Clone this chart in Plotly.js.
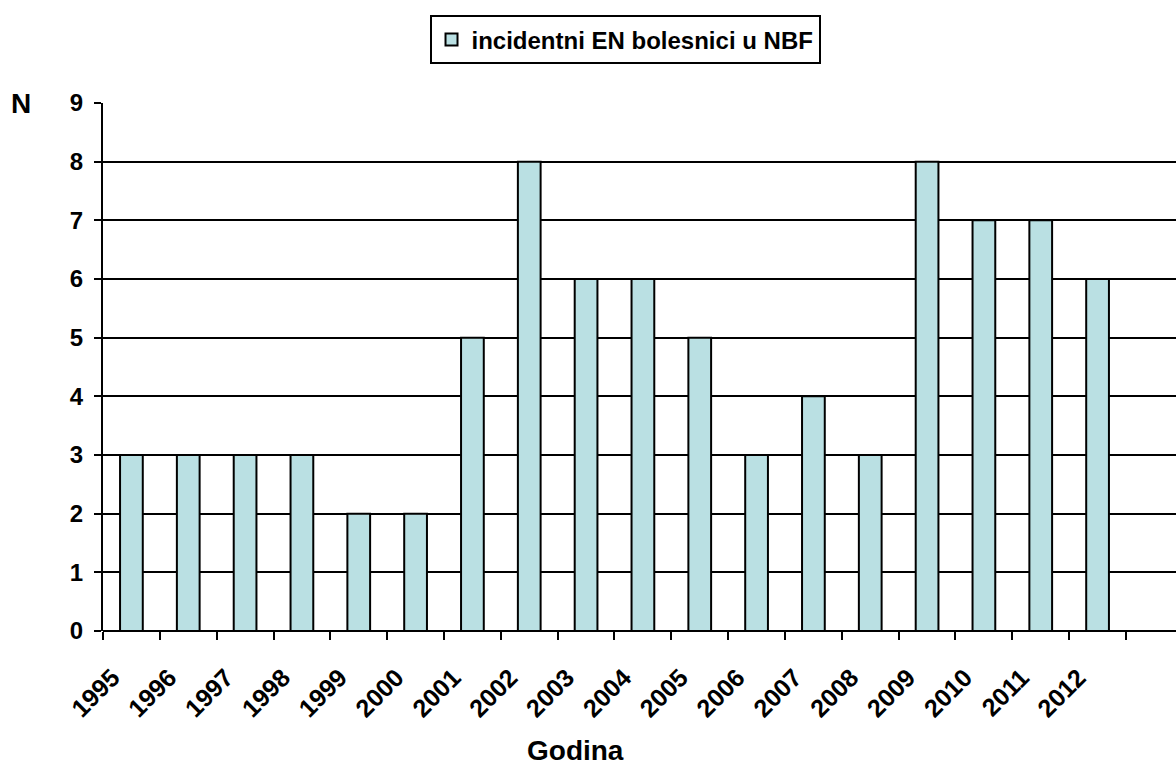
<!DOCTYPE html>
<html>
<head>
<meta charset="utf-8">
<script src="https://cdn.plot.ly/plotly-3.0.1.min.js"></script>
<style>html,body{margin:0;padding:0;background:#fff;overflow:hidden}#chart{width:1176px;height:776px}</style>
</head>
<body>
<div id="chart"></div>
<script>
const years = ["1995","1996","1997","1998","1999","2000","2001","2002","2003","2004","2005","2006","2007","2008","2009","2010","2011","2012"];
const counts = [3,3,3,3,2,2,5,8,6,6,5,3,4,3,8,7,7,6];
const seriesName = "incidentni EN bolesnici u NBF";
const yTicks = [0,1,2,3,4,5,6,7,8,9];

const FONT = "Arial, 'Liberation Sans', sans-serif";

const trace = {
  type: "bar",
  x: years,
  y: counts,
  name: seriesName,
  width: 0.4,
  marker: {color: "#BAE0E3", line: {color: "#000", width: 2}},
  showlegend: true
};

const layout = {
  width: 1176, height: 776,
  margin: {l: 103, r: 0, t: 103, b: 145},
  paper_bgcolor: "#fff",
  plot_bgcolor: "#fff",
  font: {family: FONT, color: "#000", size: 24, weight: "bold"},
  showlegend: true,
  legend: {
    x: 0.4865, xanchor: "center", y: 1.166, yanchor: "top",
    orientation: "h",
    bordercolor: "#000", borderwidth: 2, bgcolor: "#fff",
    font: {family: FONT, size: 24, color: "#000", weight: "bold"},
    itemwidth: 30,
    tracegroupgap: 0
  },
  xaxis: {
    type: "category",
    range: [-0.5, 18.38],
    tickson: "boundaries",
    ticks: "outside", ticklen: 8, tickwidth: 2, tickcolor: "#000",
    tickangle: -45,
    ticklabelstandoff: 26,
    ticklabelshift: -19,
    tickfont: {family: FONT, size: 25, color: "#000", weight: "bold"},
    showline: false,
    showgrid: false,
    zeroline: false,
    fixedrange: true
  },
  yaxis: {
    range: [0, 9],
    tickvals: yTicks,
    ticktext: yTicks.map(String),
    ticks: "outside", ticklen: 7, tickwidth: 2, tickcolor: "#000",
    ticklabelstandoff: 6,
    tickfont: {family: FONT, size: 24, color: "#000", weight: "bold"},
    showgrid: true, gridcolor: "#000", gridwidth: 2,
    zeroline: true, zerolinecolor: "#000", zerolinewidth: 2,
    showline: true, linecolor: "#000", linewidth: 2,
    fixedrange: true
  },
  annotations: [
    {text: "N", xref: "paper", yref: "paper", x: -0.076, y: 1.0, xanchor: "center", yanchor: "middle",
     showarrow: false, font: {family: FONT, size: 28, color: "#000", weight: "bold"}},
    {text: "Godina", xref: "paper", yref: "paper", x: 0.4408, y: -0.2254, xanchor: "center", yanchor: "middle",
     showarrow: false, font: {family: FONT, size: 28, color: "#000", weight: "bold"}}
  ]
};

Plotly.newPlot("chart", [trace], layout, {displayModeBar: false, staticPlot: true});
</script>
</body>
</html>
